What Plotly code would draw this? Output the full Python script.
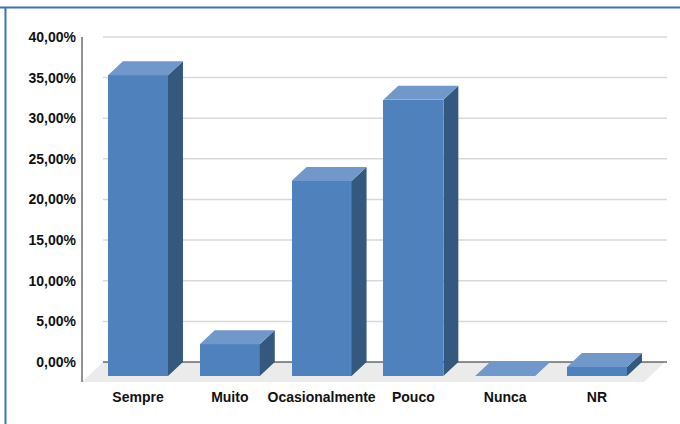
import plotly.graph_objects as go

categories = ["Sempre", "Muito", "Ocasionalmente", "Pouco", "Nunca", "NR"]
values = [37.0, 3.9, 24.0, 34.0, 0.0, 1.1]
y_ticks = [0, 5, 10, 15, 20, 25, 30, 35, 40]
y_tick_text = [f"{t:.2f}".replace(".", ",") + "%" for t in y_ticks]

FRONT = "#4f81bd"
TOP = "#7098cb"
SIDE = "#35587f"
GRID = "#d9d9d9"
FLOOR = "#ebebeb"
FRAME = "#3a72b8"

bar_w = 0.654      # front face width (category units)
dx, dy = 0.163, 1.72   # bar depth offset (x units, y units)
x_range = [-0.610, 5.763]
y_range = [-2.83, 40.86]
floor_dx, floor_dy = 0.229, 2.46
floor_right_back = 5.741

idx = list(range(len(categories)))

fig = go.Figure()

# front faces
fig.add_trace(go.Bar(x=idx, y=values, base=[-dy] * len(values), width=bar_w,
                     marker=dict(color=FRONT, line=dict(width=0)),
                     hoverinfo="skip", showlegend=False))

# top faces and side faces
tx, ty, sx, sy = [], [], [], []
for i, v in zip(idx, values):
    l, r = i - bar_w / 2, i + bar_w / 2
    tx += [l, r, r + dx, l + dx, l, None]
    ty += [v - dy, v - dy, v, v, v - dy, None]
    if v > 0:
        sx += [r, r + dx, r + dx, r, r, None]
        sy += [-dy, 0, v, v - dy, -dy, None]

fig.add_trace(go.Scatter(x=sx, y=sy, mode="lines", fill="toself", fillcolor=SIDE,
                         line=dict(width=0, color=SIDE), hoverinfo="skip", showlegend=False))
fig.add_trace(go.Scatter(x=tx, y=ty, mode="lines", fill="toself", fillcolor=TOP,
                         line=dict(width=0, color=TOP), hoverinfo="skip", showlegend=False))

shapes = []
# floor
fl = x_range[0]
floor_path = (f"M {fl},{-floor_dy} L {floor_right_back - floor_dx},{-floor_dy} "
              f"L {floor_right_back},0 L {fl + floor_dx},0 Z")
shapes.append(dict(type="path", path=floor_path, xref="x", yref="y",
                   fillcolor=FLOOR, line=dict(width=0), layer="below"))
# gridlines on back wall
for t in y_ticks:
    if t == 0:
        continue
    shapes.append(dict(type="line", xref="x", yref="y", x0=fl + floor_dx, x1=x_range[1],
                       y0=t, y1=t, line=dict(color=GRID, width=1.5), layer="below"))
# back floor edge (0 line)
shapes.append(dict(type="line", xref="x", yref="y", x0=fl + floor_dx, x1=x_range[1],
                   y0=0, y1=0, line=dict(color="#222222", width=1), layer="below"))
# y axis line
shapes.append(dict(type="line", xref="paper", yref="y", x0=0, x1=0,
                   y0=-floor_dy, y1=y_ticks[-1], line=dict(color="#222222", width=1)))
# outer frame (top and left)
shapes.append(dict(type="line", xref="paper", yref="paper", x0=-0.2, x1=1.1,
                   y0=1.0634, y1=1.0634, line=dict(color=FRAME, width=2)))
shapes.append(dict(type="line", xref="paper", yref="paper", x0=-0.1308, x1=-0.1308,
                   y0=-0.2, y1=1.0634, line=dict(color=FRAME, width=2)))

font_fam = "Liberation Sans, Arial, sans-serif"
fig.update_layout(
    width=680, height=424,
    margin=dict(l=82, r=13, t=30, b=39),
    paper_bgcolor="white", plot_bgcolor="white",
    shapes=shapes,
    bargap=0,
    xaxis=dict(range=x_range, tickvals=idx, ticktext=categories, showgrid=False,
               zeroline=False, showline=False, ticks="", ticklabelstandoff=2,
               tickfont=dict(family=font_fam, size=14, color="#111111", weight="bold")),
    yaxis=dict(range=y_range, tickvals=y_ticks, ticktext=y_tick_text,
               showgrid=False, zeroline=False, showline=False, ticks="",
               ticklabelstandoff=5,
               tickfont=dict(family=font_fam, size=14, color="#111111", weight="bold")),
)

fig.write_html("out.html")
